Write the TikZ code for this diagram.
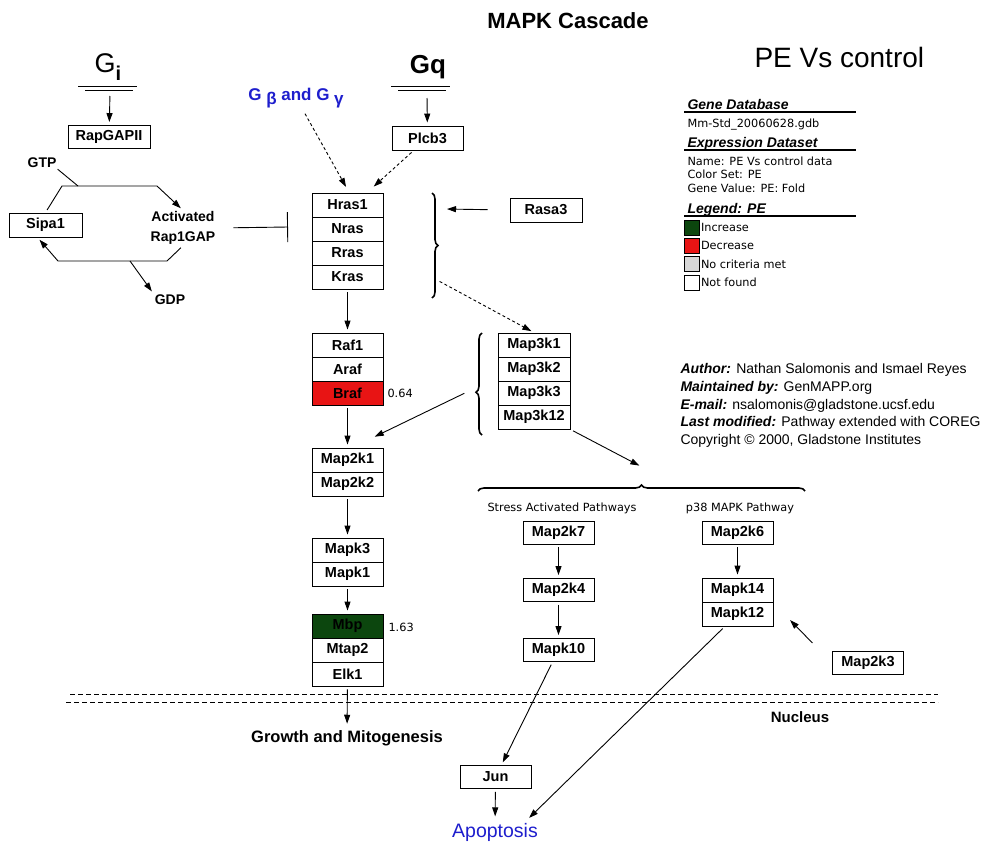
\documentclass[tikz,border=0pt]{standalone}
\usepackage{fontspec}
\setmainfont{Liberation Sans}
\newfontfamily\dejavusans{DejaVu Sans}
\usetikzlibrary{arrows.meta,decorations.pathreplacing,calc}
\definecolor{brafred}{RGB}{232,20,20}
\definecolor{mbpgreen}{RGB}{12,70,14}
\definecolor{nogray}{RGB}{215,215,215}
\definecolor{labelblue}{RGB}{30,30,205}

\begin{document}
\begin{tikzpicture}[x=1pt, y=-1pt, >={Triangle[length=9pt,width=6pt]},
  gene/.style={draw, line width=0.9pt, minimum width=71pt, minimum height=24pt, inner sep=0pt,
    font=\fontsize{14.5}{14.5}\selectfont\bfseries},
  single/.style={gene, minimum height=23pt},
  link/.style={->, line width=0.9pt, shorten <=3pt, shorten >=3pt},
  dots/.style={link, dash pattern=on 3pt off 2.5pt},
  side/.style={font=\fontsize{14}{20}\selectfont\bfseries, align=center, inner sep=1pt},
  small/.style={font=\dejavusans\fontsize{11.3}{13}\selectfont},
  info/.style={font=\fontsize{14}{14}\selectfont, anchor=west},
  head/.style={font=\fontsize{14}{14}\selectfont\bfseries\itshape, anchor=base west},
  bigbrace/.style={decorate, decoration={brace, amplitude=6pt}, line width=1.6pt},
  membrane/.style={dash pattern=on 5pt off 3pt, line width=1pt}]
\useasboundingbox (0,0) rectangle (985,846);

% Titles
\node[anchor=base, font=\fontsize{22}{22}\selectfont\bfseries] (title) at (568,28) {MAPK Cascade};
\node[anchor=base west, font=\fontsize{28}{28}\selectfont] (pevs) at (751,67) {PE Vs control};

% G proteins
\node[anchor=base, font=\fontsize{27}{27}\selectfont] (gi) at (108,72) {G\raisebox{-8pt}{\fontsize{20}{20}\selectfont\bfseries i}};
\node[anchor=base, font=\fontsize{26}{26}\selectfont\bfseries] (gq) at (428,73) {Gq};
\node[anchor=base, font=\fontsize{17}{17}\selectfont\bfseries, text=labelblue] (gbg) at (296,100) {G \raisebox{-4pt}{β} and G \raisebox{-4pt}{γ}};
\foreach \x in {108,421} {
  \draw[line width=1pt] (\x-30,86) -- (\x+29,86);
  \draw[line width=1pt] (\x-23,90) -- (\x+25,90);
}
\coordinate (gibar) at (110,93);
\coordinate (gqbar) at (427,95);

% Single genes
\node[single, minimum width=82pt] (rapgap) at (109,137) {RapGAPII};
\node[gene, minimum width=73pt] (sipa) at (45.5,225) {Sipa1};
\node[gene] (plcb) at (427.5,138) {Plcb3};
\node[gene, minimum width=72pt] (rasa) at (546,210) {Rasa3};
\node[single] (map2k7) at (558.5,532.5) {Map2k7};
\node[single] (map2k4) at (558.5,590) {Map2k4};
\node[single] (mapk10) at (558.5,650) {Mapk10};
\node[single] (map2k6) at (737.5,532.5) {Map2k6};
\node[single] (map2k3) at (868,663) {Map2k3};
\node[single] (jun) at (495.5,777) {Jun};

% Stacked gene boxes
\foreach \nm/\txt [count=\i from 0] in {hras/Hras1, nras/Nras, rras/Rras, kras/Kras}
  \node[gene] (\nm) at (347.5,205+24*\i) {\txt};
\foreach \nm/\txt/\col [count=\i from 0] in {raf1/Raf1/white, araf/Araf/white, braf/Braf/brafred}
  \node[gene, fill=\col] (\nm) at (347.5,345+24*\i) {\txt};
\foreach \nm/\txt [count=\i from 0] in {map2ka/Map2k1, map2kb/Map2k2}
  \node[gene] (\nm) at (347.5,460+24*\i) {\txt};
\foreach \nm/\txt [count=\i from 0] in {mapk3/Mapk3, mapk1/Mapk1}
  \node[gene] (\nm) at (347.5,550+24*\i) {\txt};
\foreach \nm/\txt/\col [count=\i from 0] in {mbp/Mbp/mbpgreen, mtap/Mtap2/white, elk/Elk1/white}
  \node[gene, fill=\col] (\nm) at (347.5,626+24*\i) {\txt};
\foreach \nm/\txt [count=\i from 0] in {map3ka/Map3k1, map3kb/Map3k2, map3kc/Map3k3, map3kd/Map3k12}
  \node[gene, minimum width=72pt] (\nm) at (534,345+24*\i) {\txt};
\foreach \nm/\txt [count=\i from 0] in {mapk14/Mapk14, mapk12/Mapk12}
  \node[gene] (\nm) at (737.5,590+24*\i) {\txt};

% Values
\node[small, anchor=west] (brafval) at (384,393) {0.64};
\node[small, anchor=west] (mbpval) at (385,627) {1.63};

% Labels
\node[side] (gtp) at (42,163) {GTP};
\node[side] (act) at (183,228) {Activated\\Rap1GAP};
\node[side] (gdp) at (170,300) {GDP};
\node[font=\fontsize{16.5}{16.5}\selectfont\bfseries] (growth) at (347,738) {Growth and Mitogenesis};
\node[font=\fontsize{15}{15}\selectfont\bfseries] (nucleus) at (800,717) {Nucleus};
\node[font=\fontsize{19.5}{19.5}\selectfont, text=labelblue] (apoptosis) at (495,832) {Apoptosis};
\node[small] (stress) at (562,508) {Stress Activated Pathways};
\node[small] (p38) at (740,508) {p38 MAPK Pathway};

% Braces
\draw[bigbrace] (432,193) -- (432,298);
\draw[bigbrace, decoration={brace, amplitude=6pt, aspect=0.42}] (482,435) -- (482,333);
\draw[bigbrace] (478,491) -- (805,491);
\coordinate (rasbrtop) at (444,209);
\coordinate (rasbrlow) at (437,280);
\coordinate (map3kbr) at (467,392);
\coordinate (map2kin) at (372,438);
\coordinate (pathbr) at (642,467);
\coordinate (p38in) at (788,618);
\coordinate (apopin) at (527,820);
\coordinate (rasblock) at (288,227);

% Connectors
\draw[link] (gibar) -- (rapgap);
\draw[link] (gqbar) -- (plcb);
\draw[dots] (gbg) -- ($(hras.north)+(0,-3)$);
\draw[dots] (plcb) -- ($(hras.north)+(24,-4)$);
\draw[link, shorten <=22pt] (rasa.west) -- (rasbrtop);
\draw[dots] (rasbrlow) -- (map3ka.north);
\draw[link] (kras) -- (raf1);
\draw[link] (braf) -- (map2ka);
\draw[link] (map3kbr) -- (map2kin);
\draw[link] (map3kd.south east) -- (pathbr);
\draw[link] (map2kb) -- (mapk3);
\draw[link] (mapk1) -- (mbp);
\draw[link] (elk) -- (growth);
\draw[link] (map2k7) -- (map2k4);
\draw[link] (map2k4) -- (mapk10);
\draw[link] (map2k6) -- (mapk14);
\draw[link, shorten <=28pt] (map2k3.west) -- (p38in);
\draw[link] (mapk10) -- (jun);
\draw[link] (mapk12) -- (apopin);
\draw[link] (jun) -- (apoptosis);

% Rap1GAP cycle
\draw[link] (sipa.north) -- (62,186) -- (157,186) -- (act.north);
\draw[link] (act.south) -- (167,261) -- (58,261) -- ($(sipa.south)+(-8,0)$);
\draw[line width=0.9pt] (gtp.south east) -- (78,186);
\draw[link, shorten <=0pt] (130,261) -- (gdp.north west);
\draw[line width=0.9pt, -{Bar[width=30pt]}, shorten <=17pt] (act.east) -- (rasblock);

% Nucleus membrane
\draw[membrane] (70,694) -- (938,694);
\draw[membrane] (66,702) -- (938,702);

% Legend
\node[head] (genedb) at (684,109) {Gene Database};
\draw[line width=1.8pt] (684,112) -- (856,112);
\node[small, anchor=base west] (dbfile) at (684,127) {Mm-Std\_20060628.gdb};
\node[head] (exprset) at (684,147) {Expression Dataset};
\draw[line width=1.8pt] (684,150) -- (856,150);
\foreach \txt [count=\i from 0] in {Name: PE Vs control data, Color Set: PE, Gene Value: PE: Fold}
  \node[small, anchor=base west] (expr\i) at (684,165+13.5*\i) {\txt};
\node[head] (legend) at (684,213) {Legend: PE};
\draw[line width=1.8pt] (684,216) -- (856,216);
\foreach \col/\txt [count=\i from 0] in {mbpgreen/Increase, brafred/Decrease, nogray/No criteria met, white/Not found} {
  \node[draw, fill=\col, minimum size=15pt, inner sep=0pt, line width=0.6pt] (swatch\i) at (692,227.5+18.3*\i) {};
  \node[small, anchor=west, inner sep=1pt] (swlabel\i) at (swatch\i.east) {\txt};
}

% Author block
\foreach \lbl/\txt [count=\i from 0] in {Author:/Nathan Salomonis and Ismael Reyes, Maintained by:/GenMAPP.org, E-mail:/nsalomonis@gladstone.ucsf.edu, Last modified:/Pathway extended with COREG}
  \node[info] (author\i) at (677,370+17.7*\i) {\textbf{\textit{\lbl}} \txt};
\node[info] (copyright) at (677,441) {Copyright © 2000, Gladstone Institutes};
\end{tikzpicture}
\end{document}
